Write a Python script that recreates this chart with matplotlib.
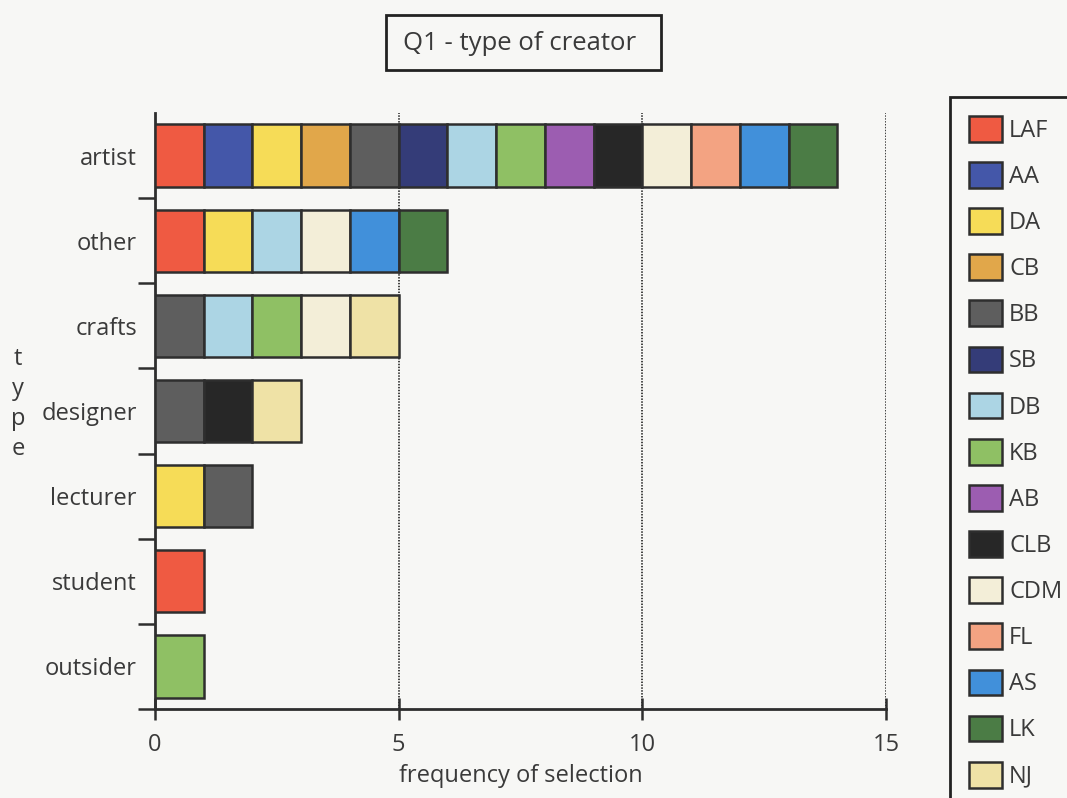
import matplotlib
matplotlib.use("Agg")
import matplotlib.pyplot as plt
from matplotlib.patches import Patch, Rectangle

plt.rcParams['font.family'] = ['Open Sans', 'DejaVu Sans']

categories = ["artist", "other", "crafts", "designer", "lecturer", "student", "outsider"]
creators = ["LAF", "AA", "DA", "CB", "BB", "SB", "DB", "KB", "AB", "CLB", "CDM", "FL", "AS", "LK", "NJ"]
creator_colors = ["#ef5a42", "#4457a9", "#f6dc57", "#e1a74a", "#5e5e5e", "#343c78", "#acd5e4",
                  "#8fc064", "#9c5db1", "#272727", "#f3eed8", "#f3a382", "#4190da", "#4b7c45", "#efe2a6"]

# selections per creator, one value per category (artist ... outsider)
selections = {
    "LAF": [1, 1, 0, 0, 0, 1, 0],
    "AA":  [1, 0, 0, 0, 0, 0, 0],
    "DA":  [1, 1, 0, 0, 1, 0, 0],
    "CB":  [1, 0, 0, 0, 0, 0, 0],
    "BB":  [1, 0, 1, 1, 1, 0, 0],
    "SB":  [1, 0, 0, 0, 0, 0, 0],
    "DB":  [1, 1, 1, 0, 0, 0, 0],
    "KB":  [1, 0, 1, 0, 0, 0, 1],
    "AB":  [1, 0, 0, 0, 0, 0, 0],
    "CLB": [1, 0, 0, 1, 0, 0, 0],
    "CDM": [1, 1, 1, 0, 0, 0, 0],
    "FL":  [1, 0, 0, 0, 0, 0, 0],
    "AS":  [1, 1, 0, 0, 0, 0, 0],
    "LK":  [1, 1, 0, 0, 0, 0, 0],
    "NJ":  [0, 0, 1, 1, 0, 0, 0],
}
x_ticks = [0, 5, 10, 15]

bg = "#f7f7f5"
ink = "#3a3a3a"
W, H = 1067, 798

fig = plt.figure(figsize=(10.67, 7.98), dpi=100, facecolor=bg)
ax = fig.add_axes([155 / W, 1 - 709 / H, (886 - 155) / W, (709 - 113) / H])
ax.set_facecolor(bg)

ypos = {c: len(categories) - 1 - i for i, c in enumerate(categories)}
left = [0.0] * len(categories)
for name, color in zip(creators, creator_colors):
    vals = selections[name]
    for i, v in enumerate(vals):
        if v > 0:
            ax.barh(ypos[categories[i]], v, left=left[i], height=0.73, color=color,
                    edgecolor="#2e2e2e", linewidth=1.8, zorder=3)
            left[i] += v

ax.set_xlim(0, 15)
ax.set_ylim(-0.5, len(categories) - 0.5)

for t in x_ticks[1:]:
    ax.axvline(t, color="#333333", linestyle=(0, (0.8, 0.8)), linewidth=1.3, zorder=1)

for s in ["top", "right"]:
    ax.spines[s].set_visible(False)
for s in ["left", "bottom"]:
    ax.spines[s].set_color("#2e2e2e")
    ax.spines[s].set_linewidth(2)

ax.set_xticks(x_ticks)
ax.set_xticklabels([str(t) for t in x_ticks])
ax.tick_params(axis="x", direction="inout", length=16, width=1.8, color="#2e2e2e",
               labelsize=17, labelcolor=ink, pad=9)

# category boundaries carry the tick marks; labels sit at the bar centres
ax.set_yticks([y + 0.5 for y in range(-1, len(categories) - 1)])
ax.set_yticklabels([])
ax.tick_params(axis="y", direction="out", length=12, width=1.8, color="#2e2e2e")
ax.set_yticks(list(ypos.values()), minor=True)
ax.set_yticklabels(list(ypos.keys()), minor=True)
ax.tick_params(axis="y", which="minor", length=0, labelsize=17, labelcolor=ink, pad=13)

ax.set_xlabel("frequency of selection", fontsize=17, color=ink, labelpad=5)

fig.text(18 / W, 1 - 404 / H, "t\ny\np\ne", fontsize=17, color=ink,
         ha="center", va="center", linespacing=1.32)

fig.patches.append(Rectangle((386 / W, 1 - 70 / H), (661 - 386) / W, 55 / H,
                             transform=fig.transFigure, facecolor=bg,
                             edgecolor="#222222", linewidth=2))
fig.text(520 / W, 1 - 44 / H, "Q1 - type of creator", fontsize=18.5, color=ink,
         ha="center", va="center")

handles = [Patch(facecolor=c, edgecolor="#2e2e2e", linewidth=1.8, label=n)
           for n, c in zip(creators, creator_colors)]
leg = fig.legend(handles=handles, loc="upper left", bbox_to_anchor=(950 / W, 1 - 97 / H),
                 frameon=True, fancybox=False, fontsize=17, handlelength=1.4, handleheight=1.3,
                 handletextpad=0.3, labelspacing=0.82, borderpad=0.8, borderaxespad=0,
                 framealpha=1)
leg.get_frame().set_edgecolor("#222222")
leg.get_frame().set_linewidth(2)
leg.get_frame().set_facecolor(bg)
for txt in leg.get_texts():
    txt.set_color(ink)

fig.savefig("out.png", dpi=100, facecolor=bg)
